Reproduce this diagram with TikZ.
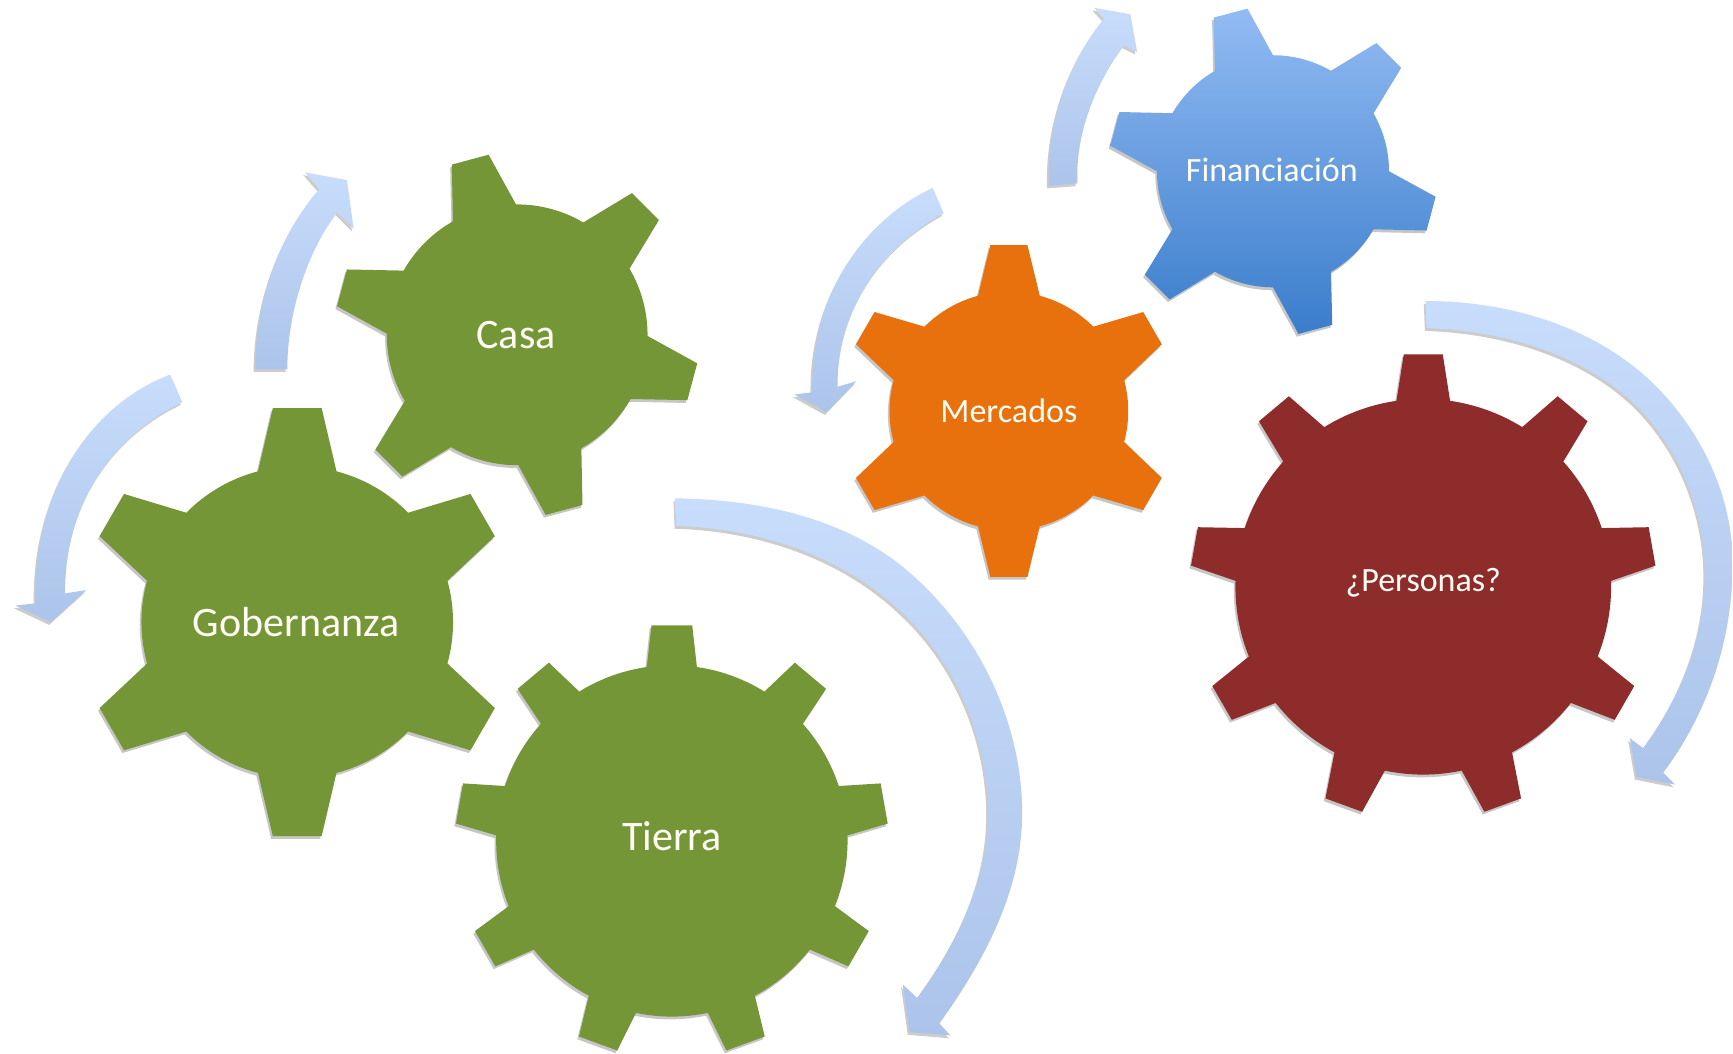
\documentclass[tikz,border=0pt]{standalone}
\usepackage{fontspec}
\setmainfont{Carlito}
\definecolor{gGreen}{HTML}{759637}
\definecolor{gOrange}{HTML}{E8710D}
\definecolor{gRed}{HTML}{8E2B2B}
\definecolor{gBlueT}{HTML}{92BBF3}
\definecolor{gBlueB}{HTML}{3A7DCB}
\definecolor{aTop}{HTML}{C8DDFC}
\definecolor{aBot}{HTML}{ACC4EA}
\tikzset{
  gearshadow/.style={fill=gray!45,draw=none},
  gearlabel/.style={text=white!96!yellow,inner sep=0pt,anchor=center},
  blockarrow/.style={top color=aTop,bottom color=aBot,draw=none},
  arrowshadow/.style={fill=gray!40,draw=none}
}
% #1 n  #2 offset  #3 rb  #4 rt  #5 db  #6 dt
\newcommand{\gearpath}[6]{%
  ({#2-#5}:#3)
  \foreach \i in {1,...,#1}{
    -- ({#2+(\i-1)*360/#1-#5}:#3)
    -- ({#2+(\i-1)*360/#1-#6}:#4)
    -- ({#2+(\i-1)*360/#1+#6}:#4)
    -- ({#2+(\i-1)*360/#1+#5}:#3)
    arc[start angle={#2+(\i-1)*360/#1+#5},end angle={#2+\i*360/#1-#5},radius=#3]
  } -- cycle}
% #1 cx #2 cy(from top) #3 n #4 off #5 rb #6 rt #7 db #8 dt #9 fill options
\newcommand{\gearshape}[9]{%
  \begin{scope}[shift={(#1,953-#2)}]
    \path[gearshadow,shift={(-1.5,-2.5)}] \gearpath{#3}{#4}{#5}{#6}{#7}{#8};
    \path[#9] \gearpath{#3}{#4}{#5}{#6}{#7}{#8};
  \end{scope}}
% block arrow given by a path in coordinates measured from the top
\newcommand{\blockarrowpath}[1]{%
  \begin{scope}[shift={(0,953)},yscale=-1]
    \path[arrowshadow,shift={(-1.5,2.5)}] #1;
    \path[blockarrow] #1;
  \end{scope}}
\begin{document}
\begin{tikzpicture}[x=0.5525pt,y=0.5525pt]
\useasboundingbox (0,0) rectangle (1568.3,953);
\fill[white] (0,0) rectangle (1568.3,953);

% arrows
\blockarrowpath{(231,334) .. controls (231,270) and (255,210) .. (289,171) -- (276,156) -- (314,163) -- (320,207) -- (305,192) .. controls (280,225) and (260,280) .. (260,334) -- cycle}
\blockarrowpath{(154,339) .. controls (85,365) and (30,440) .. (32,546) -- (14,548) -- (46,563) -- (78,534) -- (59,537) .. controls (58,460) and (100,395) .. (165,364) -- cycle}
\blockarrowpath{(611,451) .. controls (684,452) and (760,467) .. (817,513) .. controls (883,567) and (925,651) .. (925,736) .. controls (925,806) and (891,869) .. (850,926) -- (860,937) -- (823,934) -- (817,891) -- (830,903) .. controls (866,854) and (894,797) .. (894,736) .. controls (894,669) and (866,601) .. (817,555) .. controls (763,503) and (687,478) .. (612,476) -- cycle}
\blockarrowpath{(844,170) .. controls (780,200) and (733,270) .. (735,355) -- (719,357) -- (748,373) -- (775,345) -- (758,350) .. controls (757,285) and (795,225) .. (854,193) -- cycle}
\blockarrowpath{(949,168) .. controls (947,110) and (968,55) .. (999,17) -- (990,7) -- (1023,13) -- (1029,47) -- (1017,41) .. controls (992,75) and (973,120) .. (975,166) -- cycle}
\blockarrowpath{(1290,272.5) .. controls (1364,272) and (1443,295.4) .. (1496,347) .. controls (1540,390) and (1568,449) .. (1568,510) .. controls (1568,578) and (1546,645) .. (1505,699) -- (1516,710) -- (1481,703) -- (1475,668) -- (1487,677) .. controls (1521,631) and (1543,577) .. (1543,520) .. controls (1543,468) and (1524,416) .. (1490,377) .. controls (1443,323) and (1363,299) .. (1291,297) -- cycle}

% gears
\gearshape{269}{563}{6}{30}{141}{195}{14.6}{6.5}{fill=gGreen}
\gearshape{468}{303}{6}{45}{118}{165}{14.5}{6}{fill=gGreen}
\gearshape{608}{761}{9}{90}{159}{196}{8.2}{5.4}{fill=gGreen}
\gearshape{913}{372}{6}{30}{108}{151}{15}{6.4}{fill=gOrange}
\gearshape{1152}{155}{6}{45}{105}{149}{15}{6.1}{top color=gBlueT,bottom color=gBlueB}
\gearshape{1288}{531}{9}{90}{170}{211}{8.2}{4.8}{fill=gRed}

% labels
\node[gearlabel,font=\fontsize{21}{25}\selectfont] (gob) at (268,953-563) {Gobernanza};
\node[gearlabel,font=\fontsize{21}{25}\selectfont] (cas) at (467,953-303) {Casa};
\node[gearlabel,font=\fontsize{21}{25}\selectfont] (tie) at (608,953-757) {Tierra};
\node[gearlabel,font=\fontsize{17}{20}\selectfont] (mer) at (913,953-372) {Mercados};
\node[gearlabel,font=\fontsize{17}{20}\selectfont] (fin) at (1151,953-154) {Financiación};
\node[gearlabel,font=\fontsize{17}{20}\selectfont] (per) at (1288,953-527) {¿Personas?};
\end{tikzpicture}
\end{document}
